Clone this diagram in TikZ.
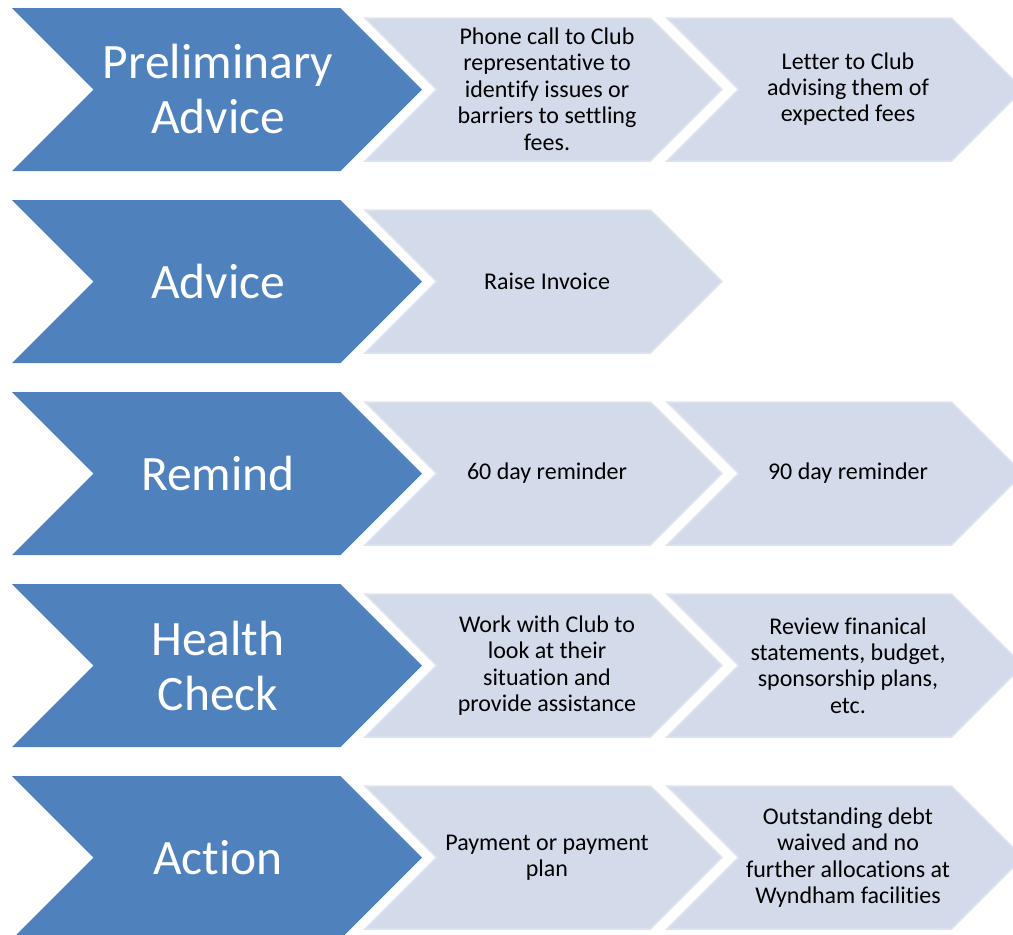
\documentclass[tikz,border=0pt]{standalone}
\usepackage{fontspec}
\setmainfont{Carlito}[Ligatures=NoCommon]
\definecolor{blueA}{HTML}{4F81BD}
\definecolor{lightA}{HTML}{D3DBEA}
\definecolor{lightB}{HTML}{DDE3EF}
\newcommand{\chevron}[5]{% style, x, y, w, h
  \path[#1] (#2,#3) -- ({#2+#4-#5/2},#3) -- ({#2+#4},{#3+#5/2}) -- ({#2+#4-#5/2},{#3+#5}) -- (#2,{#3+#5}) -- ({#2+#5/2},{#3+#5/2}) -- cycle;}
\begin{document}
\begin{tikzpicture}[x=1pt,y=-1pt,
  bigarrow/.style={fill=blueA,draw=none},
  smallarrow/.style={fill=lightA,draw=lightB,line width=1.5pt,line join=miter},
  bigtxt/.style={text=white,font=\fontsize{49.5}{55}\selectfont,align=center},
  smalltxt/.style={text=black,font=\fontsize{24}{26.4}\selectfont,align=center}]
\useasboundingbox (0,0) rectangle (1013,935);
% rows
\foreach \r in {0,1,2,3,4}{
  \chevron{bigarrow}{12}{8+192*\r}{410}{163}
  \chevron{smallarrow}{365}{18+192*\r}{357}{143}
}
\foreach \r in {0,2,3,4}{
  \chevron{smallarrow}{667}{18+192*\r}{356}{143}
}
% row 1
\node[bigtxt] (b1) at (218,88.5) {Preliminary\\Advice};
\node[smalltxt] (a1) at (547,89) {Phone call to Club\\representative to\\identify issues or\\barriers to settling\\fees.};
\node[smalltxt] (c1) at (848,89) {Letter to Club\\advising them of\\expected fees};
% row 2
\node[bigtxt] (b2) at (218,281.5) {Advice};
\node[smalltxt] (a2) at (547,281.5) {Raise Invoice};
% row 3
\node[bigtxt] (b3) at (218,473.5) {Remind};
\node[smalltxt] (a3) at (547,473.5) {60 day reminder};
\node[smalltxt] (c3) at (848,473.5) {90 day reminder};
% row 4
\node[bigtxt] (b4) at (218,665.5) {Health\\Check};
\node[smalltxt] (a4) at (547,665.5) {Work with Club to\\look at their\\situation and\\provide assistance};
\node[smalltxt] (c4) at (848,665.5) {Review finanical\\statements, budget,\\sponsorship plans,\\etc.};
% row 5
\node[bigtxt] (b5) at (218,857.5) {Action};
\node[smalltxt] (a5) at (547,857.5) {Payment or payment\\plan};
\node[smalltxt] (c5) at (848,857.5) {Outstanding debt\\waived and no\\further allocations at\\Wyndham facilities};
\end{tikzpicture}
\end{document}
